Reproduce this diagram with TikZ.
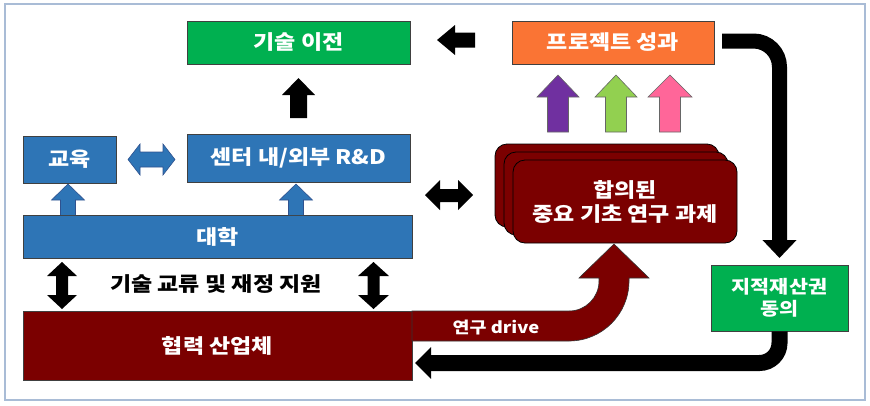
\documentclass[tikz,border=0pt]{standalone}
\usepackage{fontspec}
\setmainfont{Noto Sans CJK KR}[FakeStretch=1.15]
\usetikzlibrary{arrows.meta}
\definecolor{cgreen}{HTML}{00B050}
\definecolor{cblue}{HTML}{2E75B6}
\definecolor{cblueline}{HTML}{2F528F}
\definecolor{cred}{HTML}{7B0000}
\definecolor{corange}{HTML}{FA7434}
\definecolor{cpurple}{HTML}{7030A0}
\definecolor{clime}{HTML}{92D050}
\definecolor{cpink}{HTML}{FF6699}
\definecolor{cframe}{HTML}{A9BCD6}
\tikzset{
  box/.style={draw=black!75, line width=0.8pt, inner sep=0pt, text=white,
    font=\fontsize{20}{24}\selectfont\bfseries, align=center},
  blockblack/.style={fill=black},
  blockblue/.style={fill=cblue, draw=cblueline, line width=0.6pt},
  blockcol/.style={draw=black!60, line width=0.6pt},
  bigarrow/.style={line width=15pt, rounded corners=26pt},
}
\begin{document}
\begin{tikzpicture}[x=1pt,y=-1pt]
\useasboundingbox (0,0) rectangle (870,405);
\draw[cframe, line width=1.5pt] (5,4) rectangle (865,400);

% boxes
\node[box, fill=cgreen, minimum width=223pt, minimum height=43pt] (tech) at (298.5,42.5) {기술 이전};
\node[box, fill=corange, minimum width=202pt, minimum height=43pt] (proj) at (613,42.5) {프로젝트 성과};
\node[box, fill=cblue, minimum width=93pt, minimum height=47pt] (edu) at (69.5,159.5) {교육};
\node[box, fill=cblue, minimum width=223pt, minimum height=48pt] (rnd) at (298.5,158) {센터 내/외부 R\&D};
\node[box, fill=cblue, minimum width=389pt, minimum height=43pt] (univ) at (217.5,236.5) {대학};
\node[box, fill=cred, minimum width=389pt, minimum height=69pt] (coop) at (217.5,345.5) {협력 산업체};
\node[box, fill=cgreen, minimum width=137pt, minimum height=66pt, font=\fontsize{18}{22}\selectfont\bfseries] (ipr) at (779.5,298) {지적재산권\\동의};

% stacked research boxes
\draw[fill=cred, draw=black, line width=0.8pt, rounded corners=12pt] (495,144) rectangle (719,227);
\draw[fill=cred, draw=black, line width=0.8pt, rounded corners=12pt] (504,152) rectangle (728,235);
\node[box, draw=black, fill=cred, rounded corners=12pt, minimum width=224pt, minimum height=83pt] (task) at (625,201.5) {합의된\\중요 기초 연구 과제};

% label between univ and coop
\node[font=\fontsize{20}{24}\selectfont\bfseries] (lbl) at (216,284) {기술 교류 및 재정 지원};

% black up arrow to tech
\fill[blockblack] (290,118)--(290,95)--(282,95)--(298.5,78)--(315,95)--(307,95)--(307,118)--cycle;
% black left arrow
\fill[blockblack] (437,40)--(455,25)--(455,32.5)--(475,32.5)--(475,47.5)--(455,47.5)--(455,55)--cycle;
% colored up arrows
\draw[blockcol, fill=cpurple] (547.5,132)--(547.5,97)--(537,97)--(558,75)--(579,97)--(568.5,97)--(568.5,132)--cycle;
\draw[blockcol, fill=clime] (605.5,132)--(605.5,97)--(595,97)--(616,75)--(637,97)--(626.5,97)--(626.5,132)--cycle;
\draw[blockcol, fill=cpink] (659.5,132)--(659.5,97)--(648,97)--(670,75)--(692,97)--(680.5,97)--(680.5,132)--cycle;
% blue double arrow
\draw[blockblue] (128,159.5)--(140,144)--(140,152)--(163,152)--(163,144)--(175,159.5)--(163,175)--(163,167)--(140,167)--(140,175)--cycle;
% blue small up arrows
\draw[blockblue] (60.5,215)--(60.5,200)--(51.5,200)--(68,184)--(84.5,200)--(75.5,200)--(75.5,215);
\draw[blockblue] (288.5,215)--(288.5,200)--(279.5,200)--(296,184)--(312.5,200)--(303.5,200)--(303.5,215);
% black double horizontal arrow
\fill[blockblack] (425,195)--(440,180)--(440,189)--(458,189)--(458,180)--(473,195)--(458,210)--(458,202)--(440,202)--(440,210)--cycle;
% black vertical double arrows
\fill[blockblack] (62,262)--(77,276)--(68,276)--(68,295)--(77,295)--(62,309)--(47,295)--(56,295)--(56,276)--(47,276)--cycle;
\fill[blockblack] (373.5,262)--(389,276)--(379.5,276)--(379.5,295)--(389,295)--(373.5,309)--(358,295)--(367.5,295)--(367.5,276)--(358,276)--cycle;

% curved research drive arrow
\draw[fill=cred, draw=black!80, line width=0.6pt] (412,311)--(569,311) arc (90:0:30) -- (599,278)--(579,278)--(614,244)--(649,278)--(629,278)--(629,281) arc (0:90:60) -- (412,341)--cycle;
\node[text=white, font=\fontsize{16}{19}\selectfont\bfseries] (drive) at (496,328) {연구 drive};

% big black connectors
\coordinate (projout) at (722,41);
\coordinate (iprin) at (779.5,258);
\draw[bigarrow, -{Triangle[length=18pt,width=33pt]}] (projout) -| (iprin);
\coordinate (ret) at (415,363);
\draw[line width=16pt, rounded corners=20pt, -{Triangle[length=16pt,width=31pt]}] (ipr.south) |- (ret);
\end{tikzpicture}
\end{document}
